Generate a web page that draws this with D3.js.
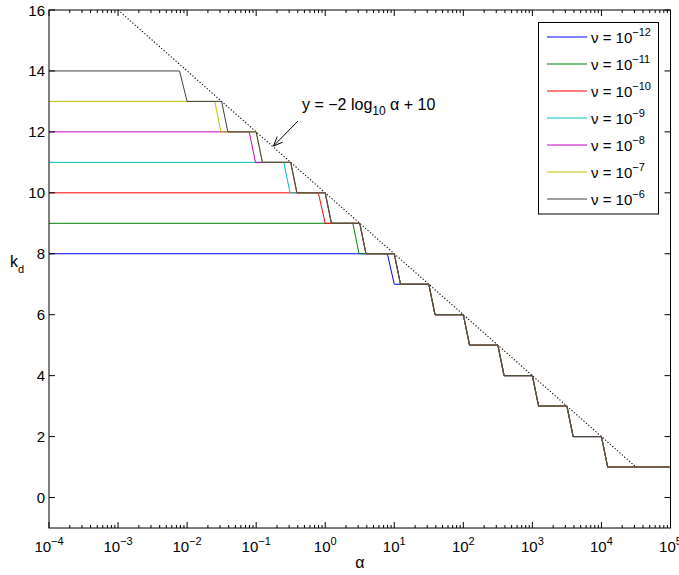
<!DOCTYPE html>
<html>
<head>
<meta charset="utf-8">
<script src="https://cdn.jsdelivr.net/npm/d3@7"></script>
<style>
  body { margin: 0; background: #fff; }
  svg { display: block; }
  text { font-family: "Liberation Sans", Arial, Helvetica, sans-serif; fill: #000; }
</style>
</head>
<body>
<svg id="chart" width="679" height="575"></svg>
<script>
// ---- data ----
const nuExponents = [-12, -11, -10, -9, -8, -7, -6];
const seriesColors = ["#0000ff", "#008000", "#ff0000", "#00bfbf", "#bf00bf", "#bfbf00", "#404040"];
// first (series-specific) step of each curve: [log10 alpha, k_d]
const headBlue    = [[-4, 8],  [0.90, 8],   [1.00, 7]];
const headGreen   = [[-4, 9],  [0.40, 9],   [0.49, 8]];
const headRed     = [[-4, 10], [-0.10, 10], [0.00, 9]];
const headCyan    = [[-4, 11], [-0.60, 11], [-0.51, 10]];
const headMagenta = [[-4, 12], [-1.10, 12], [-1.01, 11]];
const headYellow  = [[-4, 13], [-1.60, 13], [-1.51, 12]];
const headBlack   = [[-4, 14], [-2.11, 14], [-2.00, 13]];
// shared staircase that all curves follow afterwards
const stairLevels  = [13, 12, 11, 10, 9, 8, 7, 6, 5, 4, 3, 2, 1];
const stairEndLog  = [-1.5, -1.0, -0.5, 0.0, 0.5, 1.0, 1.5, 2.0, 2.5, 3.0, 3.5, 4.0, 5.0];
const stairDropLog = [-1.41, -0.91, -0.41, 0.09, 0.59, 1.09, 1.59, 2.09, 2.59, 3.09, 3.59, 4.09];
// dotted reference line y = -2 log10(alpha) + 10
const refLineLog = [-3, 4.5];
const xTickExps = [-4, -3, -2, -1, 0, 1, 2, 3, 4, 5];
const yTicks = [0, 2, 4, 6, 8, 10, 12, 14, 16];

const heads = [headBlue, headGreen, headRed, headCyan, headMagenta, headYellow, headBlack];

// ---- layout ----
const L = 49, R = 670.5, T = 10, B = 528;
const svg = d3.select("#chart");
const x = d3.scaleLog().domain([1e-4, 1e5]).range([L, R]);
const y = d3.scaleLinear().domain([-1, 16]).range([B, T]);

svg.append("defs").append("clipPath").attr("id", "clip")
  .append("rect").attr("x", L).attr("y", T).attr("width", R - L).attr("height", B - T);

function buildSeries(head) {
  const pts = head.map(p => [p[0], p[1]]);
  let level = pts[pts.length - 1][1];
  let i = stairLevels.indexOf(level);
  for (; i < stairLevels.length; i++) {
    pts.push([stairEndLog[i], stairLevels[i]]);
    if (i < stairDropLog.length) pts.push([stairDropLog[i], stairLevels[i] - 1]);
  }
  return pts.map(p => [Math.pow(10, p[0]), p[1]]);
}

const line = d3.line().x(d => x(d[0])).y(d => y(d[1]));
const plot = svg.append("g").attr("clip-path", "url(#clip)");

// reference dotted line
plot.append("path")
  .attr("d", line(refLineLog.map(v => [Math.pow(10, v), -2 * v + 10])))
  .attr("fill", "none").attr("stroke", "#000").attr("stroke-width", 1.1)
  .attr("stroke-dasharray", "1.2,2");

heads.forEach((h, i) => {
  plot.append("path")
    .attr("d", line(buildSeries(h)))
    .attr("fill", "none")
    .attr("stroke", seriesColors[i])
    .attr("stroke-width", 1);
});

// ---- axes ----
const ax = svg.append("g");
const majorLen = 6, minorLen = 3;
const tickG = ax.append("g").attr("stroke", "#000").attr("stroke-width", 1);
xTickExps.forEach(e => {
  const px = x(Math.pow(10, e));
  tickG.append("line").attr("x1", px).attr("x2", px).attr("y1", B).attr("y2", B - majorLen);
  tickG.append("line").attr("x1", px).attr("x2", px).attr("y1", T).attr("y2", T + majorLen);
  if (e < 5) {
    for (let m = 2; m <= 9; m++) {
      const pm = x(m * Math.pow(10, e));
      tickG.append("line").attr("x1", pm).attr("x2", pm).attr("y1", B).attr("y2", B - minorLen);
      tickG.append("line").attr("x1", pm).attr("x2", pm).attr("y1", T).attr("y2", T + minorLen);
    }
  }
  const t = ax.append("text").attr("x", px).attr("y", 552).attr("text-anchor", "middle")
    .style("font-size", "15px");
  t.append("tspan").text("10");
  t.append("tspan").attr("dy", -7).style("font-size", "11px").text(e < 0 ? "\u2212" + (-e) : String(e));
});
yTicks.forEach(v => {
  const py = y(v);
  tickG.append("line").attr("x1", L).attr("x2", L + majorLen).attr("y1", py).attr("y2", py);
  tickG.append("line").attr("x1", R).attr("x2", R - majorLen).attr("y1", py).attr("y2", py);
  ax.append("text").attr("x", L - 4).attr("y", py + 5.5).attr("text-anchor", "end")
    .style("font-size", "15px").text(String(v));
});
ax.append("rect").attr("x", L).attr("y", T).attr("width", R - L).attr("height", B - T)
  .attr("fill", "none").attr("stroke", "#000").attr("stroke-width", 1);

// axis labels
ax.append("text").attr("x", (L + R) / 2).attr("y", 568).attr("text-anchor", "middle")
  .style("font-size", "16px").text("\u03b1");
const yl = ax.append("text").attr("x", 10).attr("y", 267).style("font-size", "16px");
yl.append("tspan").text("k");
yl.append("tspan").attr("dy", 6).style("font-size", "11px").text("d");

// annotation
const ann = ax.append("text").attr("x", 302).attr("y", 110).style("font-size", "16px");
ann.append("tspan").text("y = \u22122 log");
ann.append("tspan").attr("dy", 5).style("font-size", "12px").text("10");
ann.append("tspan").attr("dy", -5).text(" \u03b1 + 10");
const tip = [273.5, 146], tail = [298, 121];
ax.append("line").attr("x1", tail[0]).attr("y1", tail[1]).attr("x2", tip[0]).attr("y2", tip[1])
  .attr("stroke", "#000").attr("stroke-width", 1);
const ang = Math.atan2(tail[1] - tip[1], tail[0] - tip[0]);
const ah = 10, aw = 0.4;
ax.append("path")
  .attr("d", `M${tip[0] + ah * Math.cos(ang + aw)},${tip[1] + ah * Math.sin(ang + aw)} L${tip[0]},${tip[1]} L${tip[0] + ah * Math.cos(ang - aw)},${tip[1] + ah * Math.sin(ang - aw)}`)
  .attr("fill", "none").attr("stroke", "#000").attr("stroke-width", 1);

// legend
const lg = svg.append("g");
lg.append("rect").attr("x", 538.5).attr("y", 22.5).attr("width", 120).attr("height", 191.5)
  .attr("fill", "#fff").attr("stroke", "#000").attr("stroke-width", 1);
nuExponents.forEach((e, i) => {
  const ry = 37 + i * 27;
  lg.append("line").attr("x1", 547).attr("x2", 587).attr("y1", ry).attr("y2", ry)
    .attr("stroke", seriesColors[i]).attr("stroke-width", 1.2);
  const t = lg.append("text").attr("x", 591).attr("y", ry + 5.5).style("font-size", "15px");
  t.append("tspan").text("\u03bd = 10");
  t.append("tspan").attr("dy", -7).style("font-size", "11px").text("\u2212" + (-e));
});
</script>
</body>
</html>
